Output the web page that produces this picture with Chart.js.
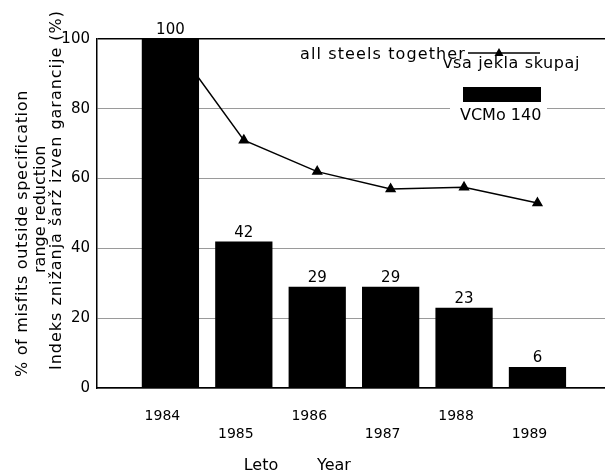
<!DOCTYPE html>
<html>
<head>
<meta charset="utf-8">
<script src="https://cdn.jsdelivr.net/npm/chart.js@4"></script>
<style>
  html, body { margin: 0; padding: 0; background: #fff; }
  canvas { display: block; }
</style>
</head>
<body>
<canvas id="chart" width="605" height="475" style="width:605px;height:475px"></canvas>
<script>
// data
const years = [1984, 1985, 1986, 1987, 1988, 1989];
const vcmo = [100, 42, 29, 29, 23, 6];            // VCMo 140 bars
const allSteels = [100, 71, 62, 57, 57.5, 53];    // all steels together
const yTitle = ['% of misfits outside specification', 'range reduction', 'Indeks znižanja šarž izven garancije (%)'];
const xTitle = ['Leto', 'Year'];
const legendLine = ['all steels together', 'vsa jekla skupaj'];
const legendBar = 'VCMo 140';

const FAMILY = '"DejaVu Sans", sans-serif';

// draw text stretched (letter spacing) to a given width
function fitText(ctx, text, x, y, width) {
  ctx.letterSpacing = '0px';
  const w = ctx.measureText(text).width;
  const sp = Math.max(0, (width - w) / text.length);
  ctx.letterSpacing = sp + 'px';
  ctx.fillText(text, x, y);
  ctx.letterSpacing = '0px';
}

const decor = {
  id: 'decor',
  afterDatasetsDraw(chart) {
    const ctx = chart.ctx;
    ctx.save();
    ctx.fillStyle = '#000';
    ctx.strokeStyle = '#000';
    ctx.font = '15px ' + FAMILY;

    // value labels over bars
    ctx.textAlign = 'center';
    ctx.textBaseline = 'bottom';
    chart.getDatasetMeta(0).data.forEach((bar, i) => {
      ctx.fillText(String(vcmo[i]), bar.x, bar.y - 1);
    });

    // y title, three rotated lines
    ctx.font = '16px ' + FAMILY;
    const ys = [[23, 377, 287], [41, 273, 86], [57, 370, 360]];
    ctx.textBaseline = 'middle';
    ctx.textAlign = 'left';
    yTitle.forEach((t, i) => {
      ctx.save();
      ctx.translate(ys[i][0], ys[i][1]);
      ctx.rotate(-Math.PI / 2);
      fitText(ctx, t, 0, 0, ys[i][2]);
      ctx.restore();
    });

    // x title
    ctx.textAlign = 'center';
    ctx.fillText(xTitle[0], 261, 466);
    ctx.fillText(xTitle[1], 334, 466);

    // legend: line series
    ctx.textAlign = 'left';
    fitText(ctx, legendLine[0], 300, 55, 166);
    fitText(ctx, legendLine[1], 443, 64, 137);
    ctx.lineWidth = 1.5;
    ctx.beginPath();
    ctx.moveTo(468, 53);
    ctx.lineTo(540, 53);
    ctx.stroke();
    ctx.beginPath();
    ctx.moveTo(499, 48);
    ctx.lineTo(494.5, 56);
    ctx.lineTo(503.5, 56);
    ctx.closePath();
    ctx.fill();

    // legend: bars
    ctx.fillRect(463, 87, 78, 15);
    ctx.fillStyle = '#fff';
    ctx.fillRect(450, 104, 97, 20);
    ctx.fillStyle = '#000';
    fitText(ctx, legendBar, 460, 116, 78);
    ctx.restore();
  }
};

new Chart(document.getElementById('chart').getContext('2d'), {
  type: 'bar',
  data: {
    datasets: [{
      type: 'bar',
      label: legendBar,
      data: years.map((y, i) => ({ x: y, y: vcmo[i] })),
      backgroundColor: '#000',
      borderWidth: 0,
      barPercentage: 0.78,
      categoryPercentage: 1,
      order: 0
    }, {
      type: 'line',
      label: legendLine[0],
      data: years.map((y, i) => ({ x: y, y: allSteels[i] })),
      borderColor: '#000',
      backgroundColor: '#000',
      borderWidth: 1.5,
      pointStyle: 'triangle',
      pointRadius: 5,
      tension: 0,
      order: 1
    }]
  },
  options: {
    responsive: false,
    animation: false,
    layout: { autoPadding: false, padding: { top: 39, right: 0, left: 0, bottom: 0 } },
    plugins: { legend: { display: false }, tooltip: { enabled: false } },
    scales: {
      x: {
        type: 'linear',
        offset: false,
        min: 1983,
        max: 1989.92,
        afterBuildTicks: s => { s.ticks = years.map(v => ({ value: v })); },
        afterFit: s => { s.height = 87; s.paddingLeft = 0; s.paddingRight = 0; },
        grid: { display: false, drawTicks: false },
        border: { color: '#000', width: 1.5 },
        ticks: {
          color: '#000',
          font: { family: FAMILY, size: 14, lineHeight: 1.3 },
          padding: 19,
          labelOffset: -8,
          maxRotation: 0,
          autoSkip: false,
          callback: (v, i) => i % 2 ? ['', String(v)] : String(v)
        }
      },
      y: {
        min: 0,
        max: 100,
        afterFit: s => { s.width = 97; },
        grid: {
          drawTicks: false,
          color: c => c.tick.value === 100 ? '#000' : '#9a9a9a',
          lineWidth: c => c.tick.value === 100 ? 1.5 : 1
        },
        border: { color: '#000', width: 1.5 },
        ticks: {
          stepSize: 20,
          color: '#000',
          padding: 7,
          font: { family: FAMILY, size: 15 }
        }
      }
    }
  },
  plugins: [decor]
});
</script>
</body>
</html>
